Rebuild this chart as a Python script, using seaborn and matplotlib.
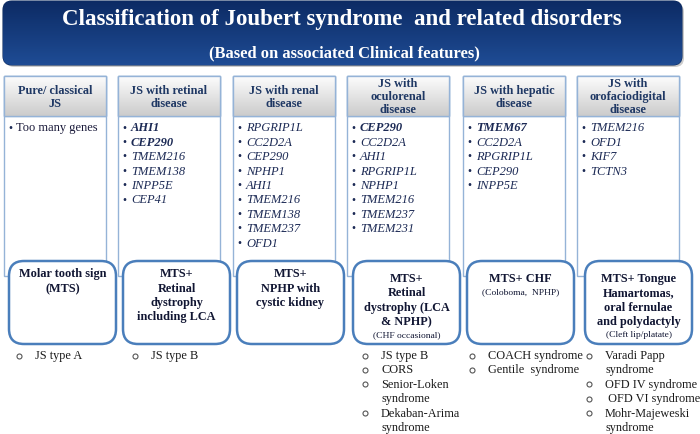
import matplotlib
matplotlib.use("Agg")
import matplotlib.pyplot as plt
from matplotlib.patches import FancyBboxPatch, Rectangle
from matplotlib.colors import LinearSegmentedColormap
import numpy as np
import seaborn as sns

# ── Content ──────────────────────────────────────────────────────────────────
TITLE = "Classification of Joubert syndrome  and related disorders"
SUBTITLE = "(Based on associated Clinical features)"

headers = [
    ["Pure/ classical", "JS"],
    ["JS with retinal", "disease"],
    ["JS with renal", "disease"],
    ["JS with", "oculorenal", "disease"],
    ["JS with hepatic", "disease"],
    ["JS with", "orofaciodigital", "disease"],
]

genes = [
    ["Too many genes"],
    ["AHI1", "CEP290", "TMEM216", "TMEM138", "INPP5E", "CEP41"],
    ["RPGRIP1L", "CC2D2A", "CEP290", "NPHP1", "AHI1", "TMEM216", "TMEM138",
     "TMEM237", "OFD1"],
    ["CEP290", "CC2D2A", "AHI1", "RPGRIP1L", "NPHP1", "TMEM216", "TMEM237",
     "TMEM231"],
    ["TMEM67", "CC2D2A", "RPGRIP1L", "CEP290", "INPP5E"],
    ["TMEM216", "OFD1", "KIF7", "TCTN3"],
]
bold_genes = [[], ["AHI1", "CEP290"], [], ["CEP290"], ["TMEM67"], []]

features = [
    ["Molar tooth sign", "(MTS)"],
    ["MTS+", "Retinal", "dystrophy", "including LCA"],
    ["MTS+", "NPHP with", "cystic kidney"],
    ["MTS+", "Retinal", "dystrophy (LCA", "& NPHP)"],
    ["MTS+ CHF"],
    ["MTS+ Tongue", "Hamartomas,", "oral fernulae", "and polydactyly"],
]
feature_notes = ["", "", "", "(CHF occasional)", "(Coloboma,  NPHP)",
                 "(Cleft lip/platate)"]

syndromes = [
    ["JS type A"],
    ["JS type B"],
    [],
    ["JS type B", "CORS", "Senior-Loken\nsyndrome", "Dekaban-Arima\nsyndrome"],
    ["COACH syndrome", "Gentile  syndrome"],
    ["Varadi Papp\nsyndrome", "OFD IV syndrome", " OFD VI syndrome",
     "Mohr-Majeweski\nsyndrome"],
]

# ── Layout ───────────────────────────────────────────────────────────────────
COL_X = [4, 118, 233, 347, 463, 577]
COL_W = 102
BOX_X = [9, 123, 237, 353, 467, 585]
BOX_W = 107
SYN_BULLET_X = [19, 135, 250, 365, 472, 589]
LINE = 14.4

SERIF = "Liberation Serif"
NAVY = "#1f3864"
GENE_C = "#1c2a55"
BORDER = "#95b3d7"
BOX_EDGE = "#4a7ebb"

sns.set_theme(style="white")
plt.rcParams["font.family"] = [SERIF, "DejaVu Serif"]

fig = plt.figure(figsize=(7, 4.35), dpi=100)
ax = fig.add_axes([0, 0, 1, 1])
ax.set_xlim(0, 700)
ax.set_ylim(435, 0)
ax.axis("off")


def gradient_patch(patch, top_color, bottom_color, z):
    ax.add_patch(patch)
    x0, y0 = patch.get_x(), patch.get_y()
    w, h = patch.get_width(), patch.get_height()
    cmap = LinearSegmentedColormap.from_list("g", [top_color, bottom_color])
    grad = np.linspace(0, 1, 64).reshape(-1, 1)
    im = ax.imshow(grad, cmap=cmap, aspect="auto", origin="upper",
                   extent=(x0 - 2, x0 + w + 2, y0 + h + 2, y0 - 2), zorder=z)
    im.set_clip_path(patch)


# banner
shadow = FancyBboxPatch((5, 4), 679, 64, boxstyle="round,pad=0,rounding_size=9",
                        fc="#9a9a9a", ec="none", alpha=0.5, zorder=1)
ax.add_patch(shadow)
banner = FancyBboxPatch((3, 2), 679, 64, boxstyle="round,pad=0,rounding_size=9",
                        fc="#123a7a", ec="#0d2b5e", lw=0.8, zorder=2)
gradient_patch(banner, "#0c2a63", "#1f4d96", 2.5)
ax.text(342, 19, TITLE, ha="center", va="center", color="white",
        fontsize=16.5, fontweight="bold", zorder=3)
ax.text(344, 53, SUBTITLE, ha="center", va="center", color="white",
        fontsize=12, fontweight="bold", zorder=3)

for i in range(6):
    cx = COL_X[i]
    # outer column frame
    ax.add_patch(Rectangle((cx, 77), COL_W, 200, fc="white", ec=BORDER,
                           lw=1.0, zorder=3))
    # header with grey gradient
    hdr = Rectangle((cx, 77), COL_W, 40, fc="#e6e6e6", ec=BORDER, lw=1.0,
                    zorder=4)
    gradient_patch(hdr, "#ffffff", "#c9c9c9", 4.5)
    ax.add_patch(Rectangle((cx, 77), COL_W, 40, fc="none", ec=BORDER, lw=1.0,
                           zorder=5))
    lines = headers[i]
    y0 = 91 if len(lines) == 2 else 84
    for j, t in enumerate(lines):
        ax.text(cx + COL_W / 2, y0 + j * 13, t, ha="center", va="center",
                color=NAVY, fontsize=8.8, fontweight="bold", zorder=6)

    # gene list
    for j, g in enumerate(genes[i]):
        y = 128.5 + j * LINE
        ax.text(cx + 6.5, y, "\u2022", ha="center", va="center", color=GENE_C,
                fontsize=8.5, zorder=6)
        if i == 0:
            ax.text(cx + 12.5, y, g, ha="left", va="center", color="#1a1a3a",
                    fontsize=9, zorder=6)
        else:
            ax.text(cx + 13, y, g, ha="left", va="center", color=GENE_C,
                    fontsize=9, style="italic",
                    fontweight="bold" if g in bold_genes[i] else "normal",
                    zorder=6)

    # clinical feature box
    bx = BOX_X[i]
    ax.add_patch(FancyBboxPatch((bx, 262), BOX_W, 83,
                                boxstyle="round,pad=0,rounding_size=15",
                                fc="white", ec=BOX_EDGE, lw=1.8, zorder=7))
    fy0 = 274.5 if i < 3 else 279
    for j, t in enumerate(features[i]):
        ax.text(bx + BOX_W / 2, fy0 + j * 14.3, t, ha="center", va="center",
                color="#111633", fontsize=8.8, fontweight="bold", zorder=8)
    if feature_notes[i]:
        ny = fy0 + len(features[i]) * 14.0 if i != 4 else 292
        ax.text(bx + BOX_W / 2, ny, feature_notes[i], ha="center", va="center",
                color="#111633", fontsize=6.8, zorder=8)

    # syndrome list
    row = 0
    for s in syndromes[i]:
        y = 356 + row * LINE
        ax.plot(SYN_BULLET_X[i], y + 0.5, marker="o", ms=3.6, mfc="white",
                mec="#555555", mew=0.8, zorder=8)
        for k, part in enumerate(s.split("\n")):
            ax.text(SYN_BULLET_X[i] + 16, y + k * LINE, part, ha="left",
                    va="center", color="#1a1a1a", fontsize=8.8, zorder=8)
        row += s.count("\n") + 1

fig.savefig("out.png", dpi=100)
